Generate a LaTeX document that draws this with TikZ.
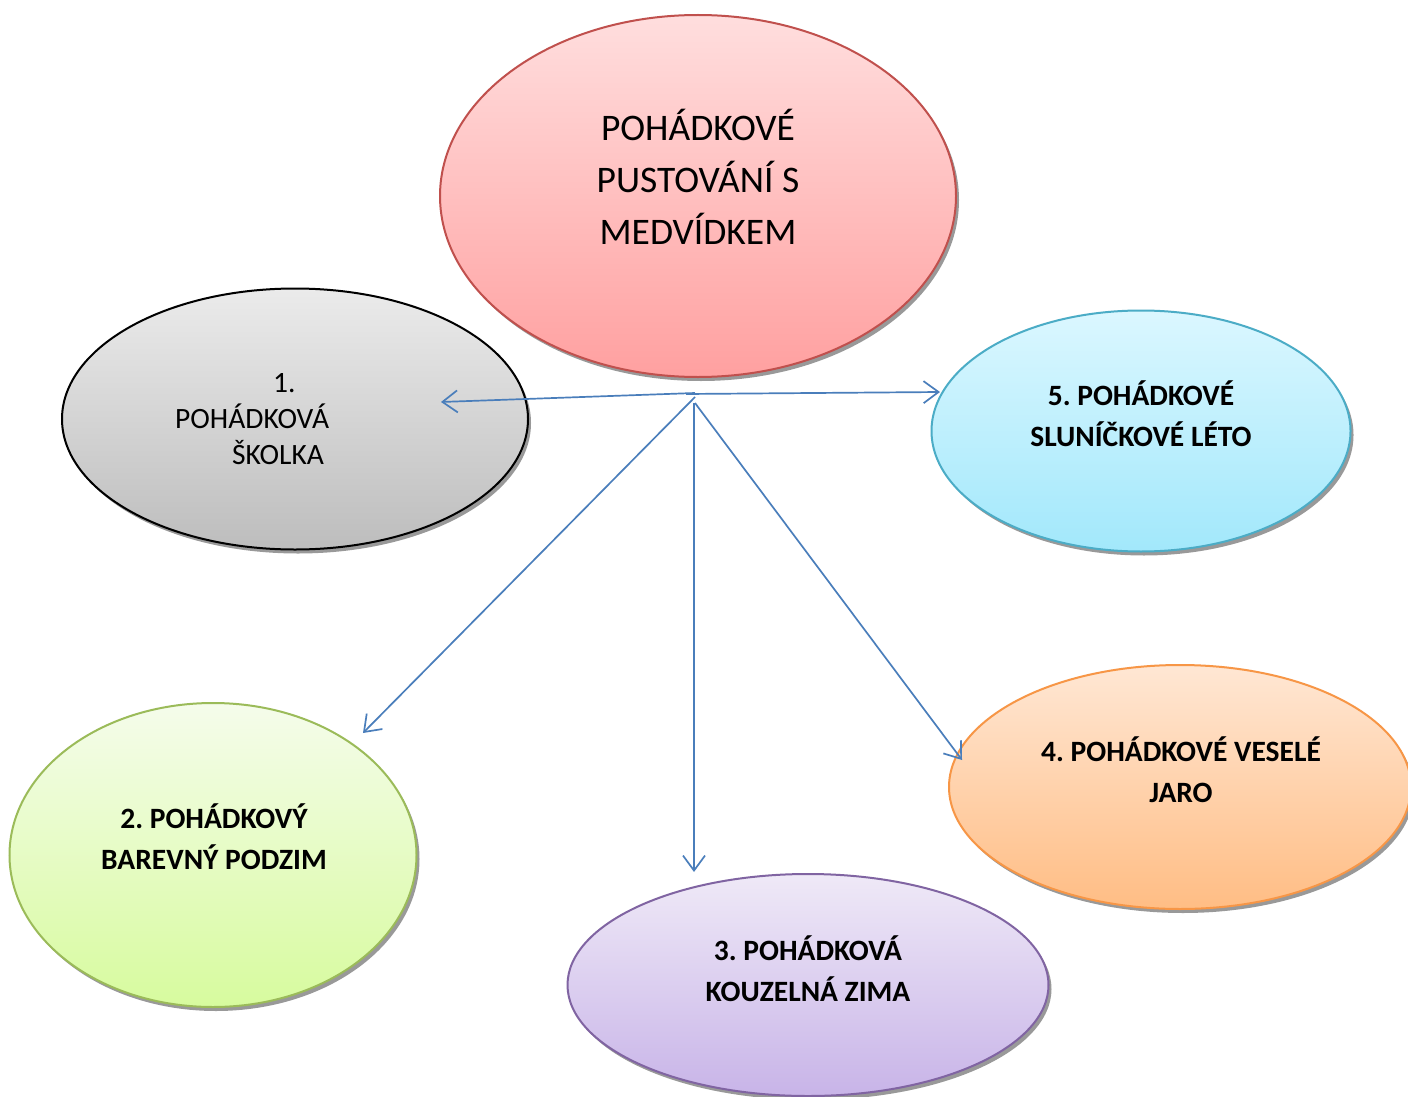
\documentclass[tikz,border=0pt]{standalone}
\usepackage{fontspec}
\setmainfont{Carlito}
\frenchspacing
\usetikzlibrary{shapes.geometric,shadows,arrows.meta}
\definecolor{connblue}{HTML}{4A7EBB}
\definecolor{redtop}{HTML}{FFDEDE}
\definecolor{redbot}{HTML}{FFA0A0}
\definecolor{redline}{HTML}{C0504D}
\definecolor{graytop}{HTML}{EBEBEB}
\definecolor{graybot}{HTML}{BDBDBD}
\definecolor{cyantop}{HTML}{DBF7FF}
\definecolor{cyanbot}{HTML}{A2E8FB}
\definecolor{cyanline}{HTML}{4BACC6}
\definecolor{orangetop}{HTML}{FFE7D4}
\definecolor{orangebot}{HTML}{FFBD84}
\definecolor{orangeline}{HTML}{F79646}
\definecolor{greentop}{HTML}{F5FCEB}
\definecolor{greenbot}{HTML}{D7FB9E}
\definecolor{greenline}{HTML}{9BBB59}
\definecolor{purpletop}{HTML}{EFE9F7}
\definecolor{purplebot}{HTML}{C8B4E8}
\definecolor{purpleline}{HTML}{8064A2}
\begin{document}
\begin{tikzpicture}[x=1pt,y=-1pt,
  oval/.style={ellipse, inner sep=0pt, line width=2pt,
    drop shadow={shadow xshift=3pt,shadow yshift=-4pt,fill=black,opacity=0.4}},
  conn/.style={draw=connblue, line width=1.7pt, -{Straight Barb[length=15pt,width=22pt]}},
  regtxt/.style={inner sep=0pt, align=center},
  boldtxt/.style={inner sep=0pt, font=\fontsize{29.5}{41}\selectfont\bfseries\frenchspacing, align=center},
]
\useasboundingbox (0,0) rectangle (1408,1097);
\fill[white] (0,0) rectangle (1408,1097);

% ellipses
\node[oval, draw=redline, top color=redtop, bottom color=redbot,
  minimum width=516pt, minimum height=362pt] (main) at (698,196) {};
\node[oval, draw=black, top color=graytop, bottom color=graybot,
  minimum width=466pt, minimum height=261pt] (e1) at (295,419) {};
\node[oval, draw=cyanline, top color=cyantop, bottom color=cyanbot,
  minimum width=419pt, minimum height=241pt] (e5) at (1141,431) {};
\node[oval, draw=greenline, top color=greentop, bottom color=greenbot,
  minimum width=407pt, minimum height=304pt] (e2) at (213,855) {};
\node[oval, draw=orangeline, top color=orangetop, bottom color=orangebot,
  minimum width=462pt, minimum height=244pt] (e4) at (1180,787) {};
\node[oval, draw=purpleline, top color=purpletop, bottom color=purplebot,
  minimum width=481pt, minimum height=222pt] (e3) at (808,985) {};

% texts
\node[regtxt, font=\fontsize{37.5}{52}\selectfont] (tmain) at (698,177)
  {POHÁDKOVÉ\\PUSTOVÁNÍ S\\MEDVÍDKEM};
\node[inner sep=0pt, align=left, anchor=west, font=\fontsize{29.5}{36}\selectfont] (t1) at (175,419)
  {\hspace*{98pt}1.\\POHÁDKOVÁ\\\hspace*{57pt}ŠKOLKA};
\node[boldtxt] (t5) at (1141,414) {5. POHÁDKOVÉ\\SLUNÍČKOVÉ LÉTO};
\node[boldtxt] (t4) at (1181,770) {4. POHÁDKOVÉ VESELÉ\\JARO};
\node[boldtxt] (t2) at (214,837) {2. POHÁDKOVÝ\\BAREVNÝ PODZIM};
\node[boldtxt] (t3) at (808,969) {3. POHÁDKOVÁ\\KOUZELNÁ ZIMA};

% connectors
\coordinate (hub) at (695,393);
\coordinate (a1) at (441,402);
\coordinate (a5) at (940,392);
\coordinate (a2) at (363,733);
\coordinate (a3) at (694,872);
\coordinate (a4) at (962,760);
\draw[conn] ([xshift=-9pt,yshift=-1pt]hub) -- (a5);
\draw[conn] (hub) -- (a1);
\draw[conn] ([yshift=-4pt]hub) -- (a2);
\draw[conn] ([xshift=-1pt,yshift=-10pt]hub) -- (a3);
\draw[conn] ([yshift=-10pt]hub) -- (a4);
\end{tikzpicture}
\end{document}
